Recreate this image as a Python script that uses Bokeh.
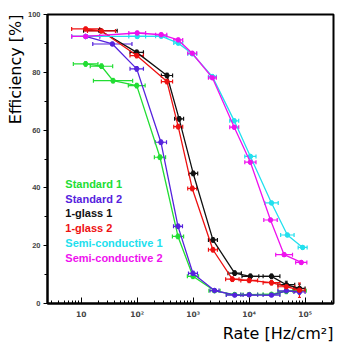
from bokeh.plotting import figure
from bokeh.models import ColumnDataSource, Whisker, TeeHead, Label, FixedTicker, CustomJSTickFormatter, Title
from bokeh.embed import file_html
from bokeh.resources import INLINE

# ---------------- data ----------------
std1_rate = [12, 23, 37, 98, 255, 535, 990, 2400, 5500, 10000, 25000, 46000, 79000]
std1_eff = [82.9, 82.1, 77.1, 75.4, 50.6, 23.2, 9.4, 4.4, 3.1, 3.1, 3.2, 4.2, 4.4]
std1_xerr = [0.22, 0.2, 0.35, 0.15, 0.1, 0.1, 0.1, 0.1, 0.15, 0.15, 0.15, 0.15, 0.12]
std1_yerr = [0.8, 0.8, 0.8, 0.8, 0.8, 0.8, 0.8, 0.6, 0.5, 0.5, 0.5, 0.8, 0.8]

std2_rate = [12, 36, 98, 265, 535, 990, 2400, 5500, 10000, 25000, 46000, 79000]
std2_eff = [92.4, 89.8, 81.2, 55.8, 26.7, 10.4, 4.5, 2.9, 3.0, 2.9, 4.4, 4.0]
std2_xerr = [0.25, 0.35, 0.12, 0.1, 0.08, 0.08, 0.08, 0.15, 0.15, 0.15, 0.15, 0.1]
std2_yerr = [0.6, 0.6, 0.8, 0.8, 0.8, 0.8, 0.6, 0.5, 0.5, 0.5, 0.8, 0.8]

g1_rate = [22, 98, 340, 560, 1000, 2250, 5500, 10500, 25000, 46000, 79000]
g1_eff = [94.4, 86.9, 78.9, 63.9, 45.0, 22.0, 10.5, 9.4, 9.4, 6.5, 5.2]
g1_xerr = [0.3, 0.12, 0.1, 0.08, 0.08, 0.08, 0.12, 0.15, 0.15, 0.15, 0.1]
g1_yerr = [0.6, 0.8, 0.8, 0.8, 0.8, 0.8, 0.8, 0.8, 0.8, 1.2, 1.5]

g2_rate = [12, 23, 98, 340, 540, 960, 2250, 5000, 10000, 25000, 46000, 79000]
g2_eff = [95.0, 94.3, 85.8, 76.8, 61.2, 39.8, 18.6, 8.4, 8.0, 7.2, 5.8, 4.6]
g2_xerr = [0.25, 0.25, 0.12, 0.1, 0.08, 0.08, 0.08, 0.12, 0.15, 0.15, 0.15, 0.1]
g2_yerr = [0.6, 0.6, 0.8, 0.8, 0.8, 0.8, 0.8, 0.8, 0.8, 0.8, 1.2, 2.5]

sc1_rate = [12, 100, 268, 540, 960, 2200, 5400, 10500, 25000, 48000, 90000]
sc1_eff = [92.4, 92.4, 92.5, 90.1, 86.4, 78.5, 63.2, 50.9, 34.8, 23.7, 19.4]
sc1_xerr = [0.25, 0.15, 0.1, 0.08, 0.08, 0.07, 0.08, 0.1, 0.12, 0.12, 0.08]
sc1_yerr = [0.6, 0.6, 0.6, 0.6, 0.6, 0.6, 0.6, 0.6, 0.6, 0.6, 0.6]

sc2_rate = [12, 100, 268, 540, 960, 2200, 5400, 10500, 24000, 42000, 85000]
sc2_eff = [92.4, 93.6, 93.0, 91.2, 86.6, 78.1, 61.0, 48.9, 28.9, 16.9, 14.2]
sc2_xerr = [0.25, 0.15, 0.1, 0.08, 0.08, 0.07, 0.08, 0.1, 0.12, 0.15, 0.1]
sc2_yerr = [0.6, 0.6, 0.6, 0.6, 0.6, 0.6, 0.6, 0.6, 0.6, 0.6, 0.6]

series_names = ["Standard 1", "Standard 2", "1-glass 1", "1-glass 2",
                "Semi-conductive 1", "Semi-conductive 2"]
series_colors = ["#22dd33", "#5522dd", "#111111", "#ee1111", "#22e0ee", "#ee11ee"]
tick_labels = {1: "10", 2: "10\u00b2", 3: "10\u00b3", 4: "10\u2074", 5: "10\u2075"}

series = [
    (std1_rate, std1_eff, std1_xerr, std1_yerr),
    (std2_rate, std2_eff, std2_xerr, std2_yerr),
    (g1_rate, g1_eff, g1_xerr, g1_yerr),
    (g2_rate, g2_eff, g2_xerr, g2_yerr),
    (sc1_rate, sc1_eff, sc1_xerr, sc1_yerr),
    (sc2_rate, sc2_eff, sc2_xerr, sc2_yerr),
]

# ---------------- figure ----------------
XMIN, XMAX = 2.5, 3.2e5
p = figure(width=345, height=344, x_axis_type="log", x_range=(XMIN, XMAX), y_range=(0, 100),
           output_backend="svg", toolbar_location=None,
           min_border_left=47, min_border_right=12, min_border_top=14, min_border_bottom=41)
p.background_fill_color = "white"
p.border_fill_color = "white"
p.grid.visible = False
p.outline_line_color = "black"
p.outline_line_width = 2

# y axis
p.yaxis.ticker = FixedTicker(ticks=[0, 20, 40, 60, 80, 100], minor_ticks=[10, 30, 50, 70, 90])
p.yaxis.major_tick_out = 4
p.yaxis.major_tick_in = 0
p.yaxis.minor_tick_out = 3
p.yaxis.minor_tick_in = 0
p.yaxis.major_label_text_font = "Liberation Sans"
p.yaxis.major_label_text_font_style = "bold"
p.yaxis.major_label_text_font_size = "7.5px"
p.yaxis.major_label_standoff = 3
p.yaxis.axis_line_width = 2

# x axis
majors = [10 ** k for k in range(0, 6)]
minors = [m * 10 ** k for k in range(0, 6) for m in range(2, 10)]
p.xaxis.ticker = FixedTicker(ticks=majors, minor_ticks=minors)
p.xaxis.formatter = CustomJSTickFormatter(
    args=dict(lab={str(k): v for k, v in tick_labels.items()}),
    code="const e = Math.round(Math.log10(tick)); return lab[String(e)] || '';")
p.xaxis.major_tick_in = 6
p.xaxis.major_tick_out = 0
p.xaxis.minor_tick_in = 3
p.xaxis.minor_tick_out = 0
p.xaxis.major_label_text_font = "DejaVu Sans"
p.xaxis.major_label_text_font_style = "bold"
p.xaxis.major_label_text_font_size = "7.5px"
p.xaxis.major_label_standoff = 6
p.xaxis.axis_line_width = 2

# ---------------- series ----------------
for (rate, eff, xe, ye), col in zip(series, series_colors):
    src = ColumnDataSource(dict(
        x=rate, y=eff,
        xl=[r / 10 ** d for r, d in zip(rate, xe)],
        xh=[r * 10 ** d for r, d in zip(rate, xe)],
        yl=[v - e for v, e in zip(eff, ye)],
        yh=[v + e for v, e in zip(eff, ye)],
    ))
    p.line("x", "y", source=src, line_color=col, line_width=1.3)
    p.add_layout(Whisker(source=src, base="y", lower="xl", upper="xh", dimension="width",
                         line_color=col, line_width=1.2,
                         lower_head=TeeHead(size=4, line_color=col, line_width=1.2),
                         upper_head=TeeHead(size=4, line_color=col, line_width=1.2)))
    p.add_layout(Whisker(source=src, base="x", lower="yl", upper="yh", dimension="height",
                         line_color=col, line_width=1.2,
                         lower_head=TeeHead(size=3, line_color=col, line_width=1),
                         upper_head=TeeHead(size=3, line_color=col, line_width=1)))
    p.scatter("x", "y", source=src, size=4.5, marker="circle", fill_color=col, line_color=col)

# ---------------- legend (coloured text) ----------------
for i, (name, col) in enumerate(zip(series_names, series_colors)):
    p.add_layout(Label(x=5.2, y=41.4 - 5.1 * i, text=name, text_color=col,
                       text_font="Liberation Sans", text_font_style="bold", text_font_size="11px",
                       text_baseline="middle", text_align="left"))

# ---------------- axis titles ----------------
p.add_layout(Title(text="Rate [Hz/cm\u00b2]", align="right", text_font="DejaVu Sans",
                   text_font_size="16px", text_font_style="normal", text_color="black",
                   standoff=0, offset=0), "below")
p.add_layout(Title(text="Efficiency [%]", align="right", text_font="DejaVu Sans",
                   text_font_size="16px", text_font_style="normal", text_color="black",
                   standoff=0, offset=0), "left")

open("out.html", "w").write(file_html(p, INLINE))
